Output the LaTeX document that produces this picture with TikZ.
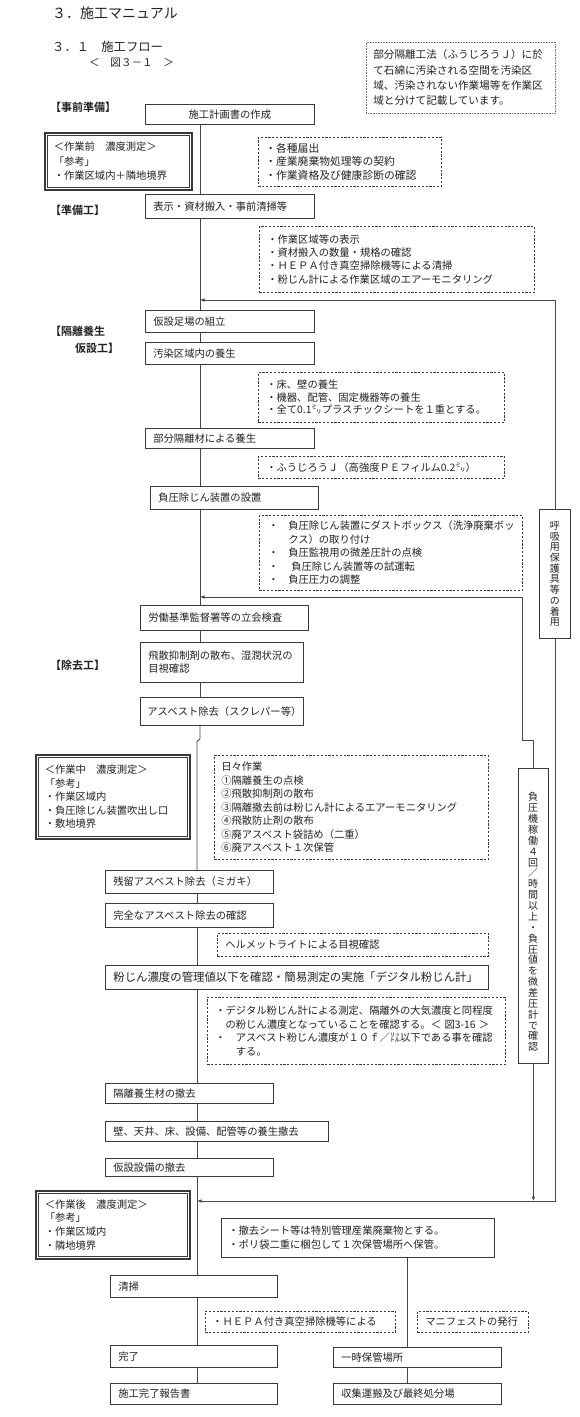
\documentclass[tikz,border=0pt]{standalone}
\usepackage{fontspec}
\setmainfont{Noto Sans CJK JP}[BoldFont={Noto Sans CJK JP Bold}]
\usetikzlibrary{arrows.meta}
\definecolor{bc}{HTML}{3A3A3A}
\definecolor{tc}{HTML}{222222}
\definecolor{lc}{HTML}{484848}
\newcommand\fs[2]{\fontsize{#1}{#2}\selectfont}
\newcommand\bt{\makebox[20pt][l]{・}}
\newcommand\bx[8][]{\pgfmathsetmacro\bxtw{#5-2*#7}\node[#1,anchor=north west,minimum width=#5pt,minimum height=#6pt,inner xsep=#7pt,text width=\bxtw pt] (#2) at (#3,#4) {#8};}
\begin{document}
\begin{tikzpicture}[x=1pt,y=-1pt,
  box/.style={draw=bc,line width=0.75pt,fill=white,text=tc,inner ysep=0pt,align=left,font=\fs{10.3}{13.5}},
  dsh/.style={box,dash pattern=on 2.2pt off 1.6pt,line width=0.6pt},
  note/.style={box,draw=black!55,dash pattern=on 0.8pt off 0.8pt,line width=0.6pt},
  dbl/.style={box,line width=1.5pt},
  conn/.style={draw=lc,line width=0.75pt},
  arr/.style={conn,-{Latex[length=4.5pt,width=3.6pt]}},
  hd/.style={anchor=west,inner sep=0pt,text=tc,font=\bfseries\fs{11}{13}},
  lbl/.style={anchor=west,inner sep=0pt,text=tc},
  vt/.style={align=center,inner sep=0pt,text=tc}]
\fill[white] (0,0) rectangle (580,1417);
\useasboundingbox (0,0) rectangle (580,1417);

% titles
\node[lbl,font=\fs{14}{16}] (t1) at (52,13) {３．施工マニュアル};
\node[lbl,font=\fs{12.3}{14}] (t2) at (52,47) {３．１　施工フロー};
\node[lbl,font=\fs{10.6}{12}] (t3) at (89,63) {＜　図３－１　＞};
\bx[note,font=\fs{10.6}{15.3}]{nb}{366}{42}{189}{71}{7}{部分隔離工法（ふうじろうＪ）に於\\て石綿に汚染される空間を汚染区\\域、汚染されない作業場等を作業区\\域と分けて記載しています。}

% headings
\node[hd] (h1) at (50,107) {【事前準備】};
\node[hd] (h2) at (50,210) {【準備工】};
\node[hd] (h3) at (50,331) {【隔離養生};
\node[hd] (h3b) at (75,348) {仮設工】};
\node[hd] (h4) at (50,665) {【除去工】};

% boxes
\bx[box,align=center]{A}{145}{104}{169}{20}{8}{施工計画書の作成}
\bx[dbl,font=\fs{10.3}{14.5}]{d1}{44}{132}{147}{57}{9}{＜作業前　濃度測定＞\\「参考」\\・作業区域内＋隣地境界}
\bx[dsh,font=\fs{10.8}{13.5}]{n1}{258}{137}{183}{49}{7}{・各種届出\\・産業廃棄物処理等の契約\\・作業資格及び健康診断の確認}
\bx[box]{B}{145}{194}{169}{24}{8}{表示・資材搬入・事前清掃等}
\bx[dsh,font=\fs{10.3}{13.3}]{n2}{259}{226}{275}{66}{8}{・作業区域等の表示\\・資材搬入の数量・規格の確認\\・ＨＥＰＡ付き真空掃除機等による清掃\\・粉じん計による作業区域のエアーモニタリング}
\bx[box]{C}{145}{310}{169}{22}{8}{仮設足場の組立}
\bx[box]{D}{145}{342}{169}{22}{8}{汚染区域内の養生}
\bx[dsh,font=\fs{10.3}{12.6}]{n3}{258}{372}{246}{50}{8}{・床、壁の養生\\・機器、配管、固定機器等の養生\\・全て0.1㍉プラスチックシートを１重とする。}
\bx[box]{E}{145}{428}{169}{20}{8}{部分隔離材による養生}
\bx[dsh]{n4}{258}{456}{246}{22}{8}{・ふうじろうＪ（高強度ＰＥフィルム0.2㍉）}
\bx[box]{F}{150}{486}{168}{23}{8}{負圧除じん装置の設置}
\bx[dsh,font=\fs{10.3}{13.5}]{n5}{259}{515}{263}{75}{9}{\bt 負圧除じん装置にダストボックス（洗浄廃棄ボッ\\\hspace*{20pt}クス）の取り付け\\\bt 負圧監視用の微差圧計の点検\\\bt\hspace*{3pt}負圧除じん装置等の試運転\\\bt 負圧圧力の調整}
\node[box,anchor=north west,minimum width=31pt,minimum height=129pt,inner sep=0pt,align=center,font=\fs{10}{10.7}] (H) at (539,509) {呼\\吸\\用\\保\\護\\具\\等\\の\\着\\用};
\bx[box]{I}{140}{605}{168}{25}{8}{労働基準監督署等の立会検査}
\bx[box,font=\fs{10.3}{13}]{J}{140}{642}{163}{40}{8}{飛散抑制剤の散布、湿潤状況の\\目視確認}
\bx[box]{K}{140}{697}{163}{28}{7}{アスベスト除去（スクレパー等）}
\bx[dbl,font=\fs{10.3}{13.5}]{d2}{35}{754}{154}{84}{9}{＜作業中　濃度測定＞\\「参考」\\・作業区域内\\・負圧除じん装置吹出し口\\・敷地境界}
\bx[dsh,font=\fs{10.3}{13.5}]{n6}{214}{755}{274}{104}{7}{日々作業\\①隔離養生の点検\\②飛散抑制剤の散布\\③隔離撤去前は粉じん計によるエアーモニタリング\\④飛散防止剤の散布\\⑤廃アスベスト袋詰め（二重）\\⑥廃アスベスト１次保管}
\node[box,anchor=north west,minimum width=30pt,minimum height=295pt,inner sep=0pt] (G) at (518,768) {};
\node[vt,font=\fs{10}{10.87}] (Gt) at (533,922) {負\\圧\\機\\稼\\働\\４\\回\\／\\時\\間\\以\\上\\・\\負\\圧\\値\\を\\微\\差\\圧\\計\\で\\確\\認};
\bx[box]{L}{105}{870}{168}{23}{8}{残留アスベスト除去（ミガキ）}
\bx[box]{M}{105}{903}{168}{24}{8}{完全なアスベスト除去の確認}
\bx[dsh]{n7}{217}{933}{271}{23}{8}{ヘルメットライトによる目視確認}
\bx[box,font=\fs{11.4}{13}]{N}{105}{965}{383}{24}{8}{粉じん濃度の管理値以下を確認・簡易測定の実施「デジタル粉じん計」}
\bx[dsh,font=\fs{10.3}{13.7}]{n8}{207}{997}{298}{67}{8}{・デジタル粉じん計による測定、隔離外の大気濃度と同程度\\　の粉じん濃度となっていることを確認する。＜ 図3-16 ＞\\・　アスベスト粉じん濃度が１０ｆ／㍑以下である事を確認\\　　する。}
\bx[box]{O}{105}{1083}{168}{20}{8}{隔離養生材の撤去}
\bx[box]{P}{105}{1121}{223}{20}{8}{壁、天井、床、設備、配管等の養生撤去}
\bx[box]{Q}{105}{1158}{168}{18}{8}{仮設設備の撤去}
\bx[dbl,font=\fs{10.3}{13.7}]{d3}{35}{1190}{154}{68}{9}{＜作業後　濃度測定＞\\「参考」\\・作業区域内\\・隣地境界}
\bx[box,font=\fs{10.3}{14}]{R}{221}{1218}{273}{39}{7}{・撤去シート等は特別管理産業廃棄物とする。\\・ポリ袋二重に梱包して１次保管場所へ保管。}
\bx[box]{S}{110}{1275}{167}{22}{8}{清掃}
\bx[dsh]{n9}{205}{1311}{190}{21}{7}{・ＨＥＰＡ付き真空掃除機等による}
\bx[dsh]{n10}{417}{1311}{111}{21}{8}{マニフェストの発行}
\bx[box]{U}{110}{1345}{167}{22}{8}{完了}
\bx[box]{V}{110}{1383}{167}{21}{8}{施工完了報告書}
\bx[box]{T}{333}{1347}{168}{20}{8}{一時保管場所}
\bx[box]{W}{333}{1383}{168}{21}{8}{収集運搬及び最終処分場}

% inner lines of double boxes
\foreach \n in {d1,d2,d3}
  \draw[bc,line width=0.5pt] ([shift={(3.4pt,-3.4pt)}]\n.north west) rectangle ([shift={(-3.4pt,3.4pt)}]\n.south east);

% connectors
\coordinate (mx) at (200,0);
\coordinate (my) at (197,0);
\coordinate (mz) at (407,0);
\coordinate (j1) at (200,300);
\coordinate (j2) at (200,597);
\coordinate (j3) at (197,1201);
\draw[conn] (A.south -| mx) -- (B.north -| mx);
\draw[conn] (B.south -| mx) -- (C.north -| mx);
\draw[conn] (C.south -| mx) -- (D.north -| mx);
\draw[conn] (D.south -| mx) -- (E.north -| mx);
\draw[conn] (E.south -| mx) -- (F.north -| mx);
\draw[conn] (F.south -| mx) -- (I.north -| mx);
\draw[conn] (I.south -| mx) -- (J.north -| mx);
\draw[conn] (J.south -| mx) -- (K.north -| mx);
\draw[conn] (K.south -| mx) -- ++(0,13) -- ++(-3,3) -- (L.north -| my);
\draw[conn] (L.south -| my) -- (M.north -| my);
\draw[conn] (M.south -| my) -- (N.north -| my);
\draw[conn] (N.south -| my) -- (O.north -| my);
\draw[conn] (O.south -| my) -- (P.north -| my);
\draw[conn] (P.south -| my) -- (Q.north -| my);
\draw[conn] (Q.south -| my) -- (S.north -| my);
\draw[conn] (S.south -| my) -- (U.north -| my);
\draw[conn] (U.south -| my) -- (V.north -| my);
\draw[arr] (H.north) |- (j1);
\draw[arr] (H.south) |- (j3);
\draw[arr] (G.north) -- ++(0,-28) -- ++(-11,0) |- (j2);
\draw[arr] (G.south) -- (G.south |- j3);
\draw[conn] (R.south -| mz) -- (T.north -| mz);
\draw[conn] (T.south -| mz) -- (W.north -| mz);
\end{tikzpicture}
\end{document}
